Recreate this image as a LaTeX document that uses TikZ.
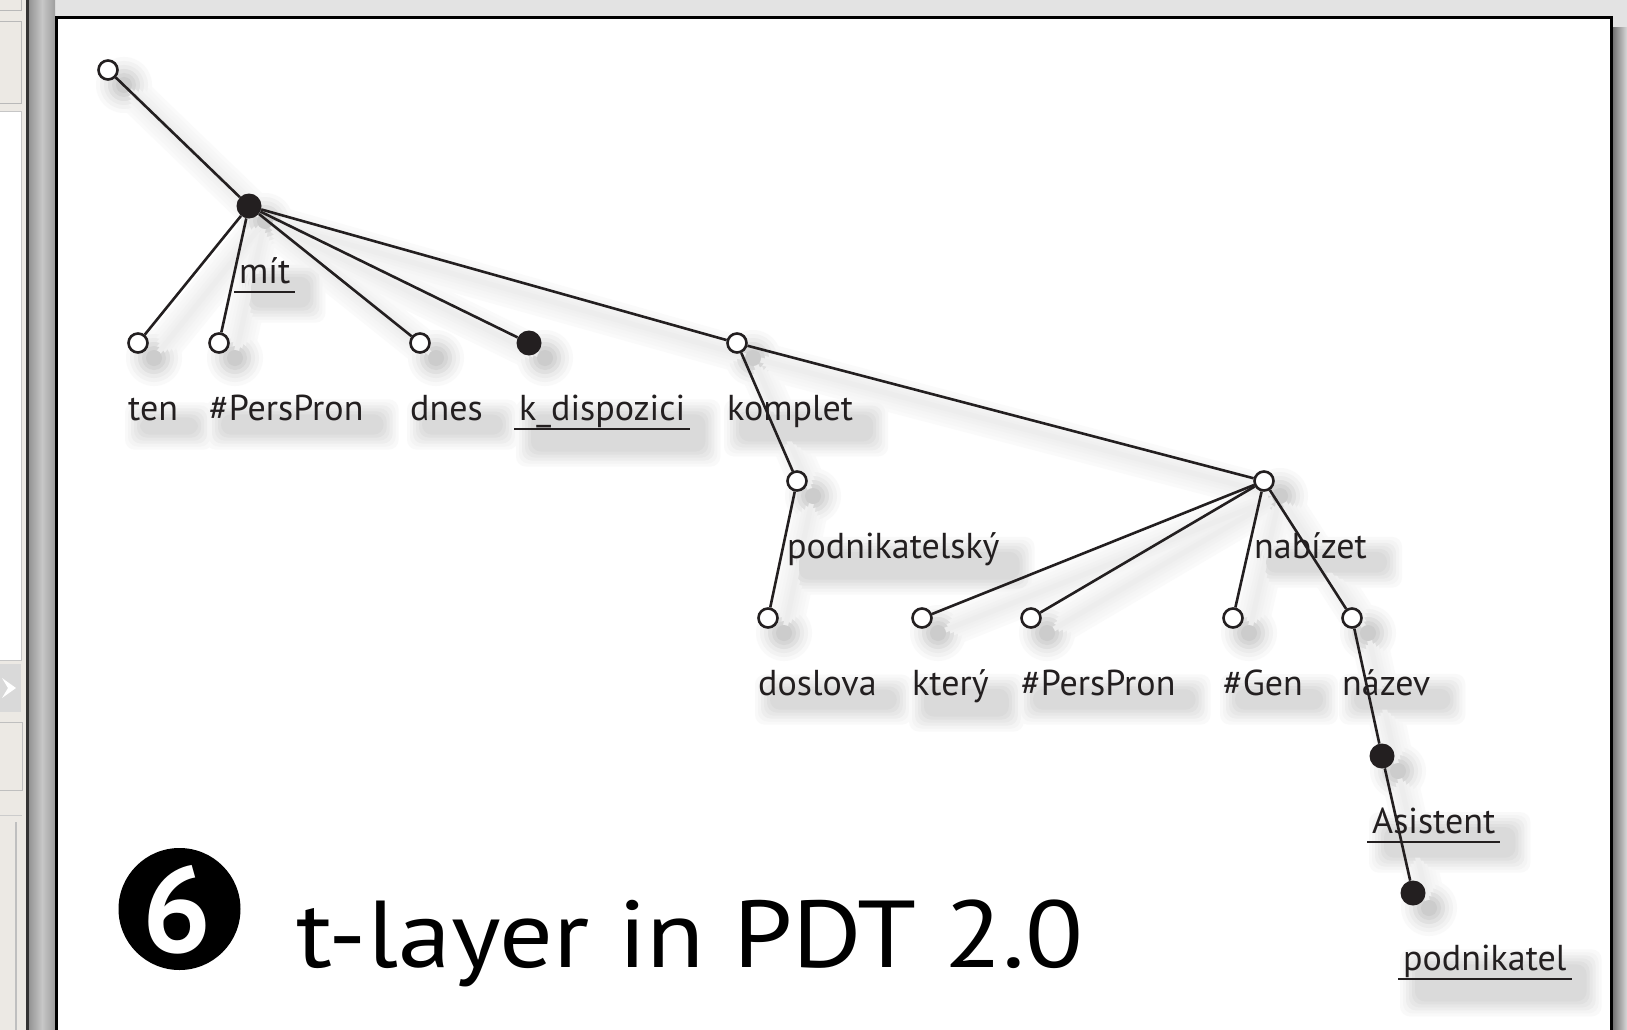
\documentclass[tikz,border=0pt]{standalone}
\usepackage{fontspec}
\setmainfont{PT Sans}
\newfontfamily\titlefont{PT Sans}
\pgfdeclarelayer{frame}
\pgfdeclarelayer{shade}
\pgfsetlayers{frame,shade,main}
\definecolor{ink}{HTML}{231F20}
\definecolor{panelbg}{HTML}{ECE9E4}
\newcommand\labfont{\fontsize{36}{40}\selectfont}
\newcommand\shx{16}
\newcommand\shy{15}

% tree data: name/x/y/kind
\def\nodelist{root/108/70/open, mit/249/206/full, ten/138/343/open, pp1/219/343/open, dnes/420/343/open, kdisp/529/343/full, komplet/737/343/open, podsky/797/481/open, nabizet/1264/481/open, doslova/768/618/open, ktery/922/618/open, pp2/1031/618/open, gen/1233/618/open, nazev/1352/618/open, asistent/1382/756/full, podnikatel/1413/893/full}
\def\edgelist{root/mit, mit/ten, mit/pp1, mit/dnes, mit/kdisp, mit/komplet, komplet/podsky, komplet/nabizet, podsky/doslova, nabizet/ktery, nabizet/pp2, nabizet/gen, nabizet/nazev, nazev/asistent, asistent/podnikatel}
\def\labellist{mit/mít/1, ten/ten/0, pp1/\#PersPron/0, dnes/dnes/0, kdisp/k\_dispozici/1, komplet/komplet/0, podsky/podnikatelský/0, nabizet/nabízet/0, doslova/doslova/0, ktery/který/0, pp2/\#PersPron/0, gen/\#Gen/0, nazev/název/0, asistent/Asistent/1, podnikatel/podnikatel/1}

% one layer of the soft drop shadow:
% #1 edge width, #2 edge grey, #3 node radius, #4 node grey, #5 label padding, #6 label grey
\newcommand\shadowpass[6]{%
  \foreach \a/\b in \edgelist {
    \draw[line width=#1pt, line cap=round, color={rgb,1:red,#2;green,#2;blue,#2}]
      ([shift={(\shx,\shy)}]\a.center) -- ([shift={(\shx,\shy)}]\b.center);
  }
  \foreach \id/\px/\py/\k in \nodelist {
    \fill[color={rgb,1:red,#4;green,#4;blue,#4}] ([shift={(\shx,\shy)}]\id.center) circle[radius=#3];
  }
  \foreach \id/\txt/\uflag in \labellist {
    \fill[color={rgb,1:red,#6;green,#6;blue,#6}, rounded corners=10pt]
      ([shift={(\shx-#5,\shy-#5+4)}]L\id.north west) rectangle ([shift={(\shx+#5,\shy+#5+\uflag*10)}]L\id.south east);
  }
}

\begin{document}
\begin{tikzpicture}[x=1pt, y=-1pt,
  open/.style={circle, draw=ink, fill=white, line width=2.6pt, minimum size=19pt, inner sep=0pt},
  full/.style={circle, fill=ink, minimum size=25pt, inner sep=0pt},
  lab/.style={font=\labfont, text=ink, anchor=base west, inner xsep=5pt, inner ysep=0pt},
  edge/.style={draw=ink, line width=2.6pt},
  uline/.style={draw=ink, line width=2.8pt},
]
\useasboundingbox (0,0) rectangle (1627,1030);

% window frame around the panel
\begin{pgfonlayer}{frame}
  \fill[gray!22] (0,0) rectangle (1627,1030);
  \fill[panelbg] (0,0) rectangle (26,1030);
  \draw[gray!55, line width=1pt] (-2,-2) rectangle (21,11);
  \draw[gray!55, line width=1pt, fill=panelbg] (-2,22) rectangle (21,104);
  \draw[gray!45, line width=1pt, fill=white] (-2,112) rectangle (21,660);
  \fill[gray!30] (-2,664) rectangle (21,712);
  \fill[white] (2,678) -- (16,688) -- (2,698) -- (8,688) -- cycle;
  \draw[gray!50, line width=1pt] (-2,722) rectangle (22,790);
  \draw[gray!40, line width=1pt] (-2,815) -- (22,815);
  \draw[gray!50, line width=1.2pt] (16,822) -- (16,1030);
  \fill[black!80] (26,0) rectangle (29,1030);
  \shade[left color=black!42, right color=black!38, middle color=black!22] (29,0) rectangle (55,1030);
  \shade[left color=black!55, right color=black!15] (1613,28) rectangle (1627,1030);
  \fill[white] (56,18) rectangle (1611,1040);
  \draw[black, line width=3pt] (56,1040) -- (56,18) -- (1611,18) -- (1611,1040);
\end{pgfonlayer}

% tree nodes
\foreach \id/\px/\py/\k in \nodelist {
  \node[\k] (\id) at (\px,\py) {};
}
% connectors
\foreach \a/\b in \edgelist {
  \draw[edge] (\a) -- (\b);
}
% node labels
\foreach \id/\txt/\uflag in \labellist {
  \node[lab] (L\id) at ([shift={(-15,77)}]\id.center) {\txt};
  \ifnum\uflag=1
    \draw[uline] ([shift={(0,9)}]L\id.base west) -- ([shift={(0,9)}]L\id.base east);
  \fi
}

% soft shadows under everything, drawn from the outer haze inwards
\begin{pgfonlayer}{shade}
  \shadowpass{36}{0.98}{28}{0.975}{14}{0.975}
  \shadowpass{29}{0.97}{24}{0.95}{11}{0.955}
  \shadowpass{22}{0.96}{20}{0.92}{8}{0.93}
  \shadowpass{16}{0.95}{16}{0.88}{5}{0.905}
  \shadowpass{10}{0.94}{12}{0.84}{2}{0.88}
  \shadowpass{5}{0.93}{8}{0.80}{-1}{0.855}
\end{pgfonlayer}

% title
\node[circle, fill=black, minimum size=122pt, inner sep=0pt] (badge) at (179.5,909) {};
\node[text=white, font=\titlefont\bfseries\fontsize{122}{122}\selectfont] (six) at ([shift={(-2,1)}]badge.center) {6};
\node[anchor=base west, inner sep=0pt, text=black, xscale=1.12, transform shape,
      font=\titlefont\fontsize{95}{100}\selectfont] (title) at (296,967) {t-layer in PDT 2.0};
\end{tikzpicture}
\end{document}
